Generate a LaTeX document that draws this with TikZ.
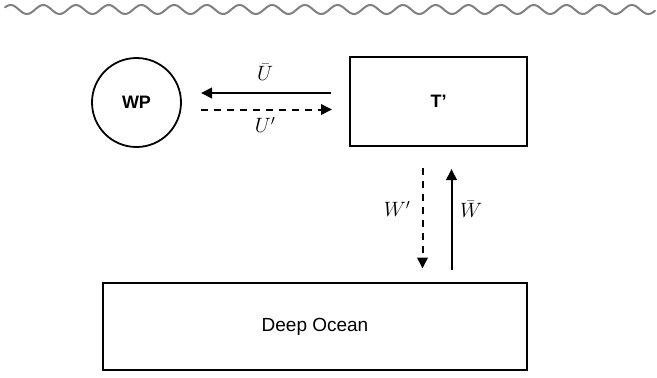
\documentclass[tikz,border=0pt]{standalone}
\usepackage{fontspec}
\setmainfont{Liberation Sans}
\usetikzlibrary{arrows.meta}
\begin{document}
\begin{tikzpicture}[x=1pt,y=-1pt,
  boxnode/.style={draw, line width=1.8pt, minimum width=177pt, minimum height=89pt, inner sep=0pt},
  flow/.style={line width=2pt, -{Triangle[length=11pt,width=10.5pt]}},
  flowd/.style={flow, dash pattern=on 7pt off 6pt},
  mlabel/.style={inner sep=0pt, font=\fontsize{20}{24}\selectfont}]
\useasboundingbox (0,0) rectangle (657,378);
\draw[color=black!50, line width=2pt, line cap=round] plot[domain=5:655, samples=400] (\x, {9.5 - 4.5*cos((\x-10.6)*11.009)});
\node[draw, circle, line width=1.8pt, minimum size=89pt, inner sep=0pt, font=\fontsize{18}{21}\selectfont\bfseries] (wp) at (136.5,102.5) {WP};
\node[boxnode, font=\fontsize{18}{21}\selectfont\bfseries] (t) at (438.5,101.5) {T'};
\node[boxnode, minimum width=424pt, minimum height=87pt, font=\fontsize{19}{22}\selectfont] (deep) at (315,326.5) {Deep Ocean};
\coordinate (a1s) at (331,93);
\coordinate (a1e) at (201,93);
\coordinate (a2s) at (201,109.5);
\coordinate (a2e) at (332,109.5);
\coordinate (v1s) at (422.5,168);
\coordinate (v1e) at (422.5,268.5);
\coordinate (v2s) at (451.5,269.5);
\coordinate (v2e) at (451.5,169);
\draw[flow] (a1s) -- (a1e);
\draw[flowd] (a2s) -- (a2e);
\draw[flowd] (v1s) -- (v1e);
\draw[flow] (v2s) -- (v2e);
\node[mlabel] (ub) at (265,72) {$\bar{U}$};
\node[mlabel] (up) at (265,125) {$U'$};
\node[mlabel] (wpr) at (397,209) {$W'$};
\node[mlabel] (wb) at (471,209) {$\bar{W}$};
\end{tikzpicture}
\end{document}
